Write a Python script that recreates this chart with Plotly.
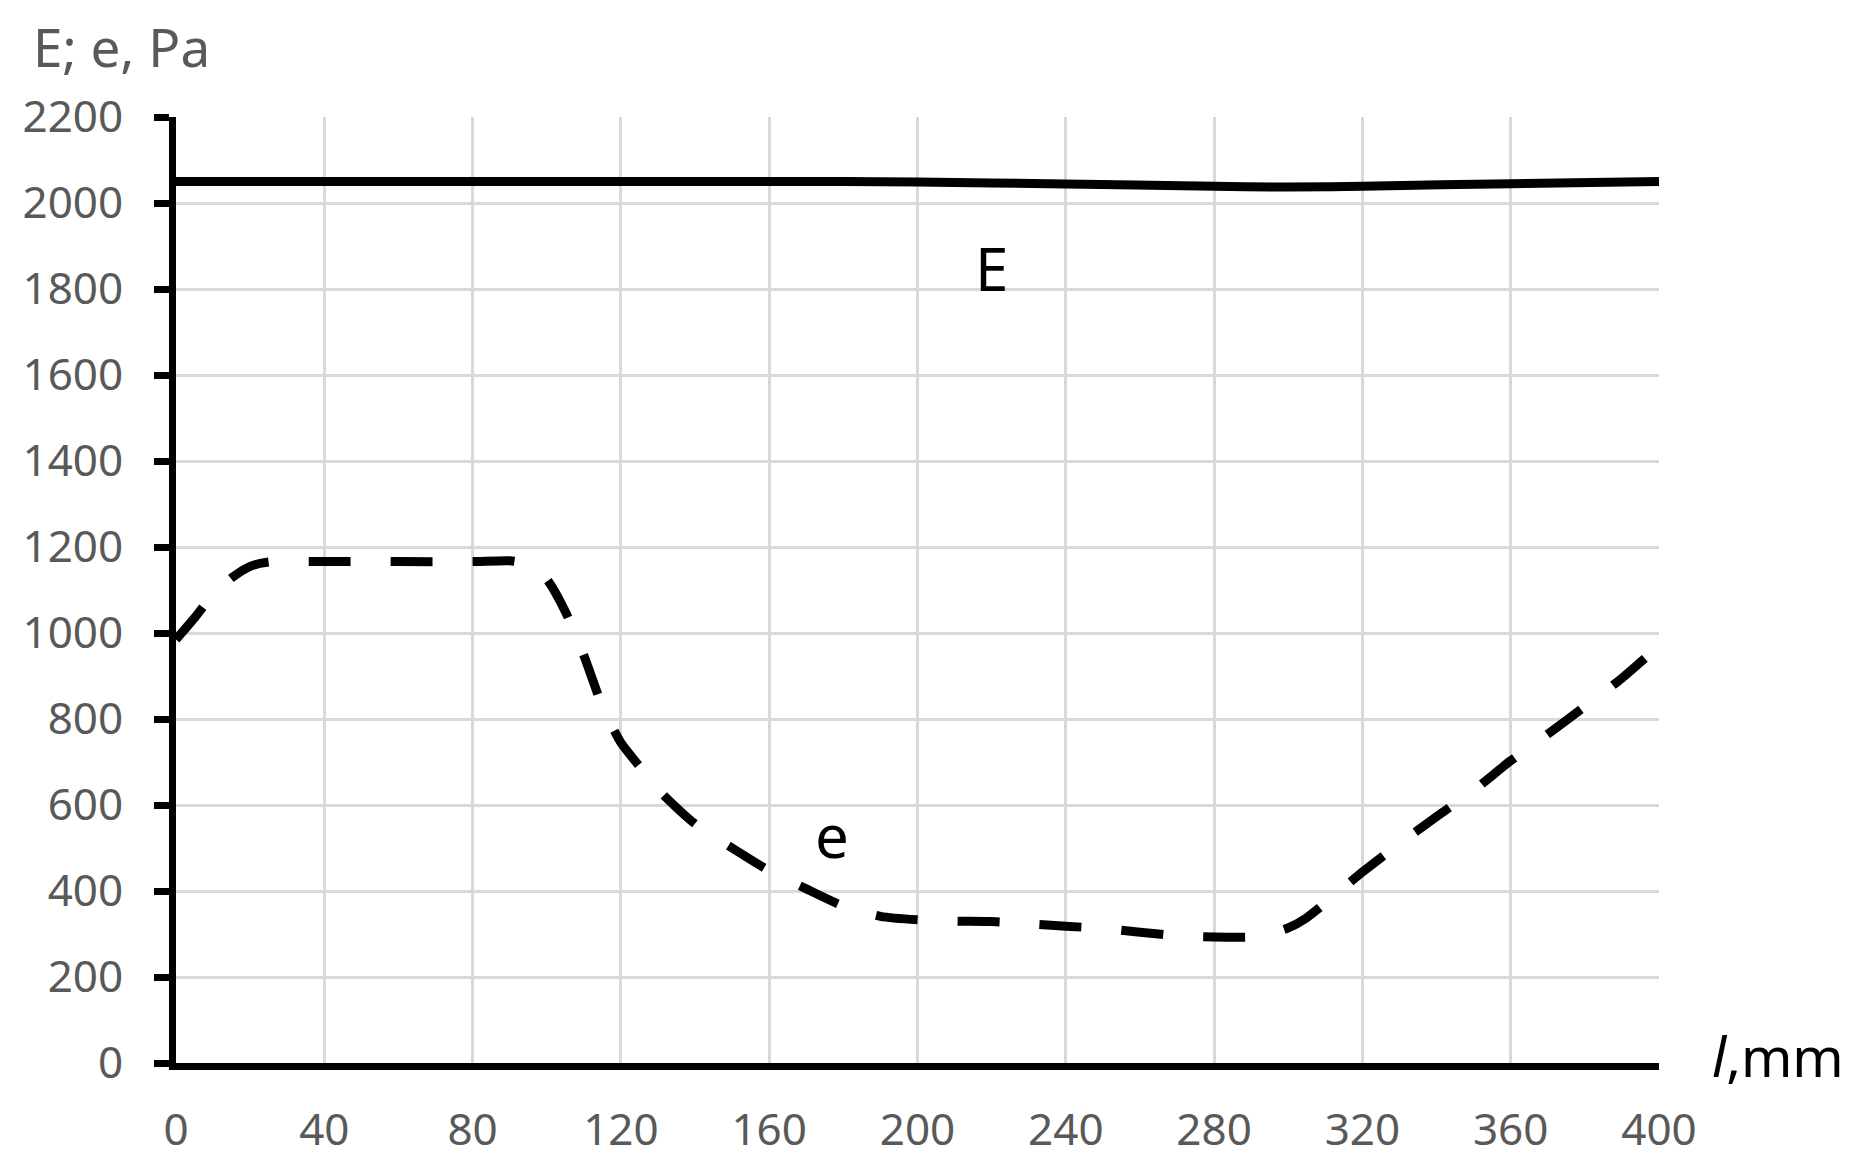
import plotly.graph_objects as go

# ---- data ----
x_E = [0, 40, 80, 120, 160, 200, 240, 280, 300, 320, 360, 400]
E_vals = [2050, 2050, 2050, 2050, 2050, 2049, 2044, 2039, 2037, 2039, 2045, 2050]

x_e = [0, 5, 10, 15, 20, 25, 40, 60, 80, 90, 95, 100, 105, 110, 115, 120, 125, 130,
       140, 150, 160, 170, 180, 190, 200, 210, 220, 230, 240, 250, 260, 270, 280,
       290, 295, 300, 305, 310, 320, 330, 340, 350, 360, 370, 380, 390, 400]
e_vals = [985, 1035, 1090, 1128, 1155, 1165, 1166, 1166, 1166, 1168, 1160, 1125,
          1050, 948, 830, 745, 690, 636, 556, 500, 447, 405, 365, 341, 333, 330,
          329, 324, 318, 313, 304, 296, 293, 293, 300, 314, 338, 372, 444, 510,
          573, 634, 703, 765, 829, 895, 970]

x_ticks = [0, 40, 80, 120, 160, 200, 240, 280, 320, 360, 400]
y_ticks = [0, 200, 400, 600, 800, 1000, 1200, 1400, 1600, 1800, 2000, 2200]

FONT = "Noto Sans"
GRAY = "#595959"

fig = go.Figure()
fig.add_trace(go.Scatter(x=x_E, y=E_vals, mode="lines", line=dict(color="black", width=9, shape="spline", smoothing=0.8),
                         showlegend=False, hoverinfo="skip"))
fig.add_trace(go.Scatter(x=x_e, y=e_vals, mode="lines",
                         line=dict(color="black", width=9, dash="42px,40px", shape="spline", smoothing=0.6),
                         showlegend=False, hoverinfo="skip"))

fig.add_annotation(x=220, y=1850, xref="x", yref="y", text="E", showarrow=False,
                   font=dict(family=FONT, size=60, color="black"))
fig.add_annotation(x=177, y=530, xref="x", yref="y", text="e", showarrow=False,
                   font=dict(family=FONT, size=60, color="black"))
fig.add_annotation(x=-0.098, y=1.074, xref="paper", yref="paper", xanchor="left", yanchor="middle",
                   text="E; e, Pa", showarrow=False, font=dict(family=FONT, size=53, color=GRAY))
fig.add_annotation(x=1.080, y=0.008, xref="paper", yref="paper", xanchor="center", yanchor="middle",
                   text="<i>l</i>,mm", showarrow=False, font=dict(family=FONT, size=55, color="black"))

fig.update_layout(
    width=1862, height=1168,
    margin=dict(l=168, r=211, t=109, b=113),
    paper_bgcolor="white", plot_bgcolor="white",
    font=dict(family=FONT, size=44, color=GRAY),
)
fig.update_xaxes(range=[0, 400], tickvals=x_ticks, showgrid=True, gridcolor="#d9d9d9", gridwidth=3,
                 showline=True, linecolor="black", linewidth=7, ticks="", zeroline=False, automargin=False,
                 ticklabelstandoff=22, tickfont=dict(family=FONT, size=44, color=GRAY))
fig.update_yaxes(range=[0, 2200], tickvals=y_ticks, showgrid=True, gridcolor="#d9d9d9", gridwidth=3,
                 showline=True, linecolor="black", linewidth=7, ticks="outside", ticklen=15,
                 tickwidth=7, tickcolor="black", zeroline=False, automargin=False,
                 ticklabelstandoff=22, tickfont=dict(family=FONT, size=44, color=GRAY))

fig.write_html("out.html")
